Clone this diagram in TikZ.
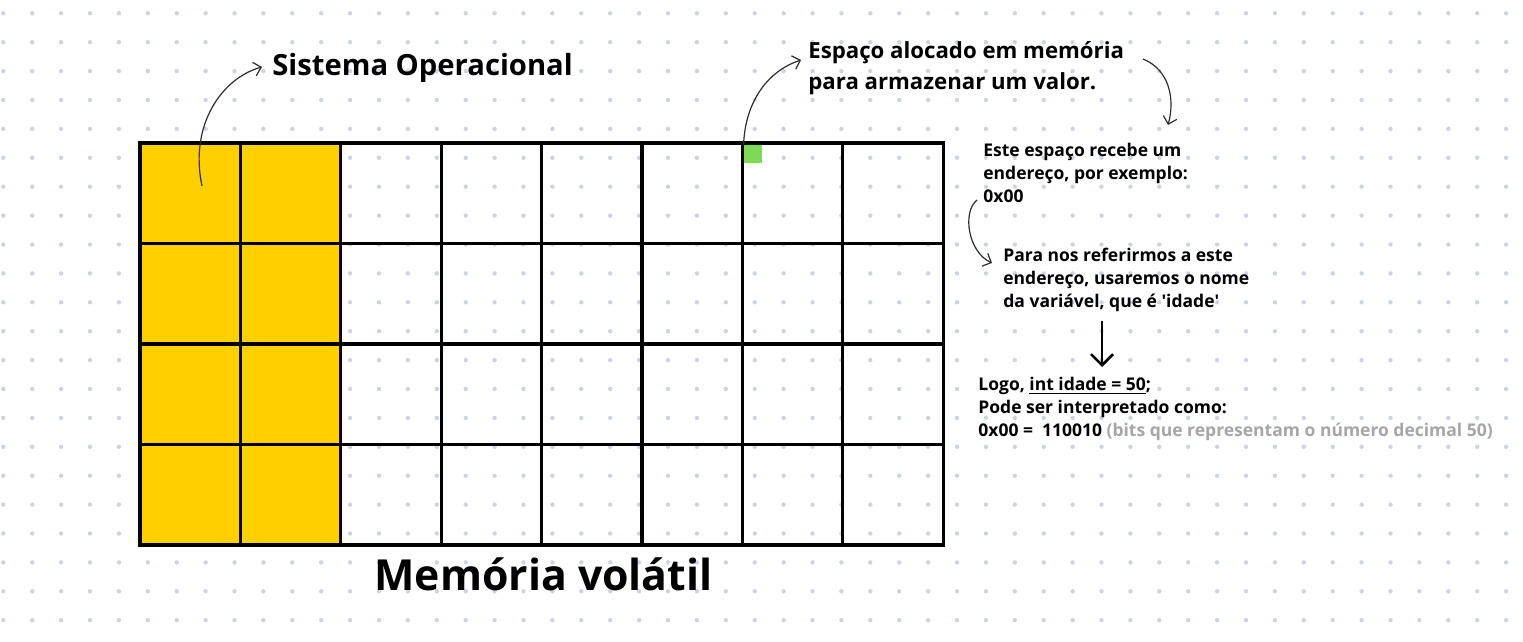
\documentclass[tikz,border=0pt]{standalone}
\usepackage{fontspec}
\setmainfont{Open Sans}
\usetikzlibrary{arrows.meta}
\definecolor{amarelo}{RGB}{255,208,0}
\definecolor{verde}{RGB}{126,217,84}
\definecolor{ponto}{RGB}{206,211,222}
\definecolor{cinza}{RGB}{166,166,166}
\definecolor{tinta}{RGB}{45,45,45}
\tikzset{
    cell/.style = {rectangle, draw=black, line width=1.6pt, minimum width=50.2pt, minimum height=50.25pt, inner sep=0pt},
    cellso/.style = {cell, fill=amarelo},
    slot/.style = {rectangle, fill=verde, minimum size=9pt, inner sep=0pt},
    texto/.style = {anchor=base west, inner sep=0pt, align=left, font=\bfseries\fontsize{8.75}{11.65}\selectfont},
    textom/.style = {texto, font=\bfseries\fontsize{11.1}{15.5}\selectfont},
    textog/.style = {texto, font=\bfseries\fontsize{14.6}{18}\selectfont},
    titulo/.style = {texto, font=\bfseries\fontsize{21.4}{26}\selectfont},
    seta/.style = {-{Straight Barb[length=3.5pt,width=7pt]}, draw=tinta, line width=0.6pt},
    setag/.style = {-{Straight Barb[length=5.5pt,width=11pt]}, draw=black, line width=1.3pt}
}
\newcommand{\C}[1]{\textcolor{cinza}{#1}}

\begin{document}
\begin{tikzpicture}[x=0.5pt,y=-0.5pt]
\useasboundingbox (0,0) rectangle (1523,642);
% fundo pontilhado
\foreach \i in {0,...,52}
  \foreach \j in {0,...,21}
    \fill[ponto] ({3.3+28.9*\i},{13.3+28.9*\j}) circle (1.1pt);
%
% memoria: 4 linhas x 8 colunas
\foreach \r in {0,...,3}
  \foreach \c in {0,1}
    \node[cellso] at ({140+100.4*(\c+0.5)},{143+100.5*(\r+0.5)}) (c-\r-\c) {};
\foreach \r in {0,...,3}
  \foreach \c in {2,...,7}
    \node[cell] at ({140+100.4*(\c+0.5)},{143+100.5*(\r+0.5)}) (c-\r-\c) {};
\node[slot] at (753,154) (valor) {};
%
% base west = linha de base da ultima linha
\node[textog] at (272,76) (so) {Sistema Operacional};
\node[textom] at (808,89.5) (espaco) {Espaço alocado em memória\\para armazenar um valor.};
\node[texto] at (983,202.7) (este) {Este espaço recebe um\\endereço, por exemplo:\\0x00};
\node[texto] at (1003,307.7) (para) {Para nos referirmos a este\\endereço, usaremos o nome\\da variável, que é \textquotesingle idade\textquotesingle};
\node[texto] at (978,436.7) (logo) {Logo, \underline{int idade = 50};\\Pode ser interpretado como:\\0x00 = \ 110010 \C{(bits que representam o número decimal 50)}};
\node[titulo] at (374,590) (memoria) {Memória volátil};
%
\coordinate (so-a) at (202,186);
\coordinate (so-b) at (262,67);
\coordinate (espaco-b) at (801,60);
\coordinate (espaco-c) at (1143,59);
\coordinate (este-a) at (1168,125);
\coordinate (este-b) at (977,200);
\coordinate (para-a) at (992,263);
\coordinate (desce-a) at (1102,321);
\coordinate (desce-b) at (1102,367);
%
\draw[seta] (so-a) .. controls (189,125) and (222,78) .. (so-b);
\draw[seta] (valor.north west) .. controls (745,105) and (765,72) .. (espaco-b);
\draw[seta] (espaco-c) .. controls (1170,70) and (1175,100) .. (este-a);
\draw[seta] (este-b) .. controls (962,212) and (968,252) .. (para-a);
\draw[setag] (desce-a) -- (desce-b);

\end{tikzpicture}
\end{document}
